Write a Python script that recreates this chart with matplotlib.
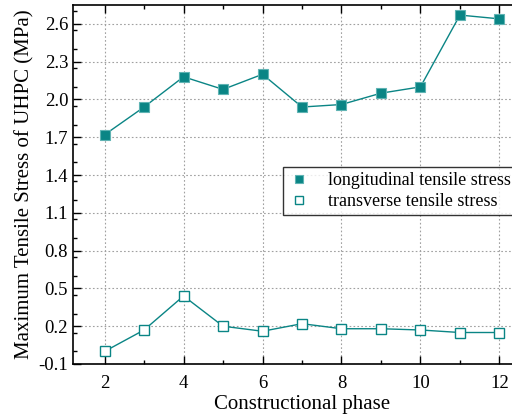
import numpy as np
import matplotlib
matplotlib.use("Agg")
import matplotlib.pyplot as plt
from matplotlib.ticker import MultipleLocator

phase = [2, 3, 4, 5, 6, 7, 8, 9, 10, 11, 12]
longitudinal = [1.72, 1.94, 2.18, 2.08, 2.20, 1.94, 1.96, 2.05, 2.10, 2.67, 2.64]
transverse = [0.00, 0.17, 0.44, 0.20, 0.16, 0.22, 0.18, 0.18, 0.17, 0.15, 0.15]

teal = "#0a8585"
edge = "#5fb3b3"

plt.rcParams['font.family'] = ['Liberation Serif', 'DejaVu Serif']

fig = plt.figure(figsize=(5.12, 4.2), dpi=100)
ax = fig.add_axes([73/512, 56/420, 458/512, 359/420])

ax.plot(phase, longitudinal, color=teal, lw=1.0, marker='s', ms=7,
        mfc=teal, mec=edge, mew=0.8, label='longitudinal tensile stress')
ax.plot(phase, transverse, color=teal, lw=1.0, marker='s', ms=6.5,
        mfc='white', mec=teal, mew=1.0, label='transverse tensile stress')

ax.set_xlim(1.2, 12.8)
ax.set_ylim(-0.1, 2.75)
ax.xaxis.set_major_locator(MultipleLocator(2))
ax.xaxis.set_minor_locator(MultipleLocator(1))
yt = np.arange(-0.1, 2.7, 0.3)
ax.set_yticks(yt)
ax.set_yticklabels(["%.1f" % v for v in yt])
ax.yaxis.set_minor_locator(MultipleLocator(0.15))
ax.tick_params(which='both', direction='in', top=True, right=True, labelsize=13.5, width=1.0)
ax.tick_params(which='major', length=6)
ax.tick_params(which='minor', length=3)
ax.tick_params(axis='x', pad=8)
for s in ax.spines.values():
    s.set_linewidth(1.2)

ax.grid(True, which='major', color='#a0a0a0', linestyle=(0, (1.5, 2)), linewidth=0.8)
ax.set_axisbelow(True)

ax.set_xlabel('Constructional phase', fontsize=15, labelpad=2)
ax.set_ylabel('Maximum Tensile Stress of UHPC (MPa)', fontsize=15, labelpad=3)

# legend box runs off the right edge of the figure
leg = ax.legend(loc='upper left', bbox_to_anchor=(283/512, 1 - 167/420),
                bbox_transform=fig.transFigure, borderaxespad=0, fontsize=13,
                frameon=True, fancybox=False, edgecolor='black', handlelength=1.2,
                handletextpad=1.0, borderpad=0.3, labelspacing=0.2, markerscale=0.8)
leg.get_frame().set_linewidth(1.0)
for h in leg.get_lines():
    h.set_linestyle('none')

fig.savefig("out.png", dpi=100)
